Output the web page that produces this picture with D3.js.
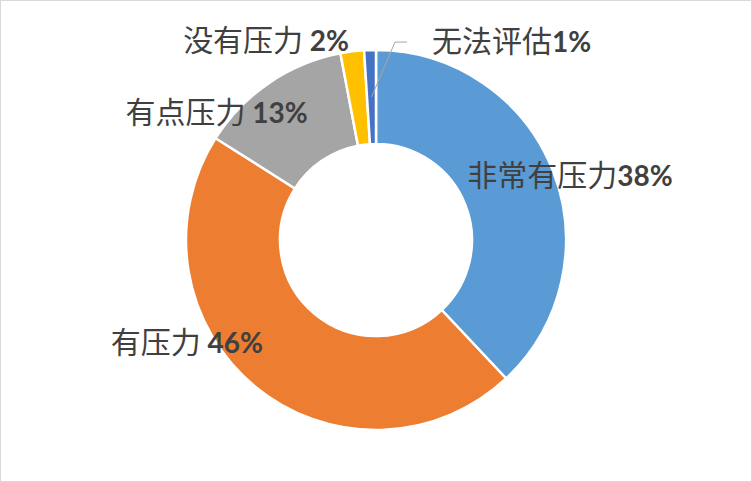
<!DOCTYPE html>
<html>
<head>
<meta charset="utf-8">
<script src="https://cdn.jsdelivr.net/npm/d3@7"></script>
<style>
  body { margin: 0; background: #fff; }
  svg { display: block; }
</style>
</head>
<body>
<svg id="chart" width="752" height="482"></svg>
<script>
// categories and shares (%), clockwise from 12 o'clock
var categories = ['非常有压力', '有压力', '有点压力', '没有压力', '无法评估'];
var values = [38, 46, 13, 2, 1];
var colors = ['#5b9bd5', '#ed7d31', '#a5a5a5', '#ffc000', '#4472c4'];
var separators = ['', ' ', ' ', ' ', ''];   // space between name and number, as in the source

// label placement, offset from each slice's centroid
var labelShift = [[61, -1], [-98, 3], [-79, 1], [-92, -47], [140, -45]];

var svg = d3.select('#chart');
var W = 752, H = 482;
var cx = 376, cy = 240, rOut = 190, rIn = 96;

svg.append('rect')
    .attr('x', 0.5).attr('y', 0.5)
    .attr('width', W - 1).attr('height', H - 1)
    .attr('fill', '#fff')
    .attr('stroke', '#d9d9d9');

var pie = d3.pie().sort(null).value(function(d){ return d; });
var arc = d3.arc().innerRadius(rIn).outerRadius(rOut);
var arcs = pie(values);

var g = svg.append('g').attr('transform', 'translate(' + cx + ',' + cy + ')');

g.selectAll('path.slice')
    .data(arcs)
    .enter()
    .append('path')
    .attr('class', 'slice')
    .attr('d', arc)
    .attr('fill', function(d, i){ return colors[i]; })
    .attr('stroke', '#fff')
    .attr('stroke-width', 2.5);

// leader line for the tiny slice
var c = arc.centroid(arcs[4]);
var ly = c[1] + labelShift[4][1] - 10;
g.append('polyline')
    .attr('points', [c, [c[0] + 23.5, ly], [c[0] + 35.5, ly]].map(function(p){ return p.join(','); }).join(' '))
    .attr('fill', 'none')
    .attr('stroke', '#a6a6a6')
    .attr('stroke-width', 1);

var labels = g.selectAll('text.lbl')
    .data(arcs)
    .enter()
    .append('text')
    .attr('class', 'lbl')
    .attr('text-anchor', 'middle')
    .attr('x', function(d, i){ return arc.centroid(d)[0] + labelShift[i][0]; })
    .attr('y', function(d, i){ return arc.centroid(d)[1] + labelShift[i][1]; })
    .attr('fill', '#404040');

labels.append('tspan')
    .style('font-family', '"Noto Sans CJK SC", sans-serif')
    .style('font-weight', 400)
    .style('font-size', '30px')
    .text(function(d, i){ return categories[i] + separators[i]; });

labels.append('tspan')
    .style('font-family', 'Lato, "Liberation Sans", sans-serif')
    .style('font-weight', 'bold')
    .style('font-size', '28px')
    .text(function(d, i){ return values[i] + '%'; });
</script>
</body>
</html>
